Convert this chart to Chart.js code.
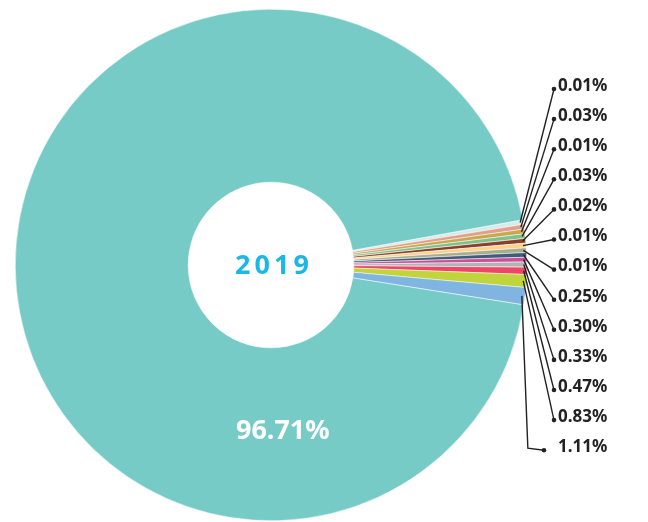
<!DOCTYPE html>
<html>
<head>
<meta charset="utf-8">
<script src="https://cdn.jsdelivr.net/npm/chart.js@4/dist/chart.umd.min.js"></script>
<style>
  html, body { margin: 0; padding: 0; background: #fff; }
  #wrap { width: 648px; height: 522px; position: relative; }
</style>
</head>
<body>
<div id="wrap"><canvas id="shareChart"></canvas></div>
<script>
// Share by category, 2019 (small slices first, then the main one)
const labels = ['a', 'b', 'c', 'd', 'e', 'f', 'g', 'h', 'i', 'j', 'k', 'l', 'm', 'main'];
const shares = [0.01, 0.03, 0.01, 0.03, 0.02, 0.01, 0.01, 0.25, 0.30, 0.33, 0.47, 0.83, 1.11, 96.71];
const colors = ['#d4ede9', '#e1a08b', '#c8a84f', '#80c08a', '#8b3e2b', '#fdd28a', '#a9ad8e',
                '#3f5d77', '#c8509b', '#b3b3b3', '#ef4666', '#c1d43b', '#80b5e1', '#76cbc7'];
const centerTitle = '2019';

// tiny shares get a minimum visible arc, as in the original graphic
const MIN_VISIBLE = 0.3;
const drawn = shares.map(v => Math.max(v, MIN_VISIBLE));

const labelPlugin = {
    id: 'sliceLabels',
    afterDatasetsDraw(chart) {
        const ctx = chart.ctx;
        const arcs = chart.getDatasetMeta(0).data;
        const last = arcs.length - 1;
        ctx.save();

        // centre title
        const a0 = arcs[0];
        ctx.fillStyle = '#1bb7e6';
        ctx.font = 'bold 27px "Noto Sans", sans-serif';
        ctx.letterSpacing = '4px';
        ctx.textAlign = 'center';
        ctx.textBaseline = 'middle';
        ctx.fillText(centerTitle, a0.x + 3, a0.y + 1);

        // big slice value
        const big = arcs[last];
        const ang = 86 * Math.PI / 180;
        const rMid = (big.innerRadius + big.outerRadius) / 2;
        ctx.fillStyle = '#ffffff';
        ctx.font = 'bold 27px "Noto Sans", sans-serif';
        ctx.letterSpacing = '0px';
        ctx.fillText(shares[last].toFixed(2) + '%', big.x + Math.cos(ang) * rMid, big.y + Math.sin(ang) * rMid - 3);

        // small slices: leader lines + labels on the right
        ctx.strokeStyle = '#222';
        ctx.lineWidth = 1.4;
        ctx.textAlign = 'left';
        ctx.font = 'bold 17px "Noto Sans", sans-serif';
        const n = last;
        for (let i = 0; i < n; i++) {
            const arc = arcs[i];
            const mid = (arc.startAngle + arc.endAngle) / 2;
            const r = arc.outerRadius - 3;
            const sx = arc.x + Math.cos(mid) * r;
            const sy = arc.y + Math.sin(mid) * r;
            const ty = 86 + i * 30.1;
            const dx = i === n - 1 ? 544 : 554;
            const dy = ty + 3;
            ctx.beginPath();
            ctx.moveTo(sx, sy);
            if (i === n - 1) {
                ctx.lineTo(sx + 6, dy - 2);
            }
            ctx.lineTo(dx, dy);
            ctx.stroke();
            ctx.beginPath();
            ctx.arc(dx, dy, 2.3, 0, Math.PI * 2);
            ctx.fillStyle = '#222';
            ctx.fill();
            ctx.fillText(shares[i].toFixed(2) + '%', 558, ty);
        }
        ctx.restore();
    }
};

new Chart(document.getElementById('shareChart'), {
    type: 'doughnut',
    data: {
        labels: labels,
        datasets: [{
            data: drawn,
            backgroundColor: colors,
            borderColor: '#ffffff',
            borderWidth: 0.5,
            hoverOffset: 0
        }]
    },
    options: {
        responsive: true,
        maintainAspectRatio: false,
        animation: false,
        cutout: '32.4%',
        rotation: 79.8,
        layout: {
            padding: { left: 15, right: 121, top: 9, bottom: 1 }
        },
        plugins: {
            legend: { display: false },
            tooltip: { enabled: false }
        }
    },
    plugins: [labelPlugin]
});
</script>
</body>
</html>
